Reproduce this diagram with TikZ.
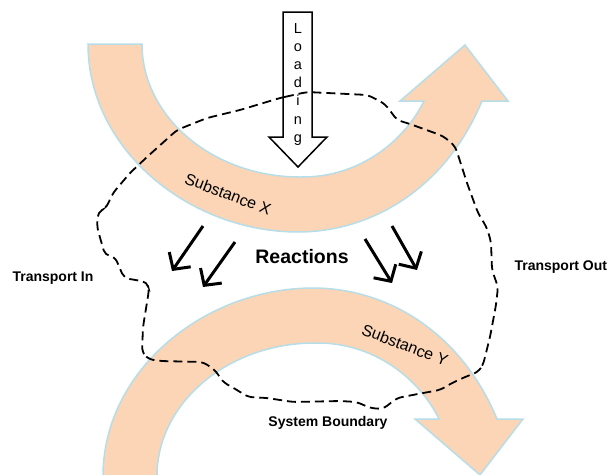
\documentclass[tikz,border=0pt]{standalone}
\usepackage{fontspec}
\setmainfont{Liberation Sans}
\usetikzlibrary{arrows.meta}
\definecolor{bandfill}{RGB}{251,213,181}
\definecolor{bandline}{RGB}{183,221,232}
% one curved band, given in picture pixels
\newcommand{\arcband}{(88,44) -- (142,44) .. controls (142,117) and (213,177) .. (300,177)
  .. controls (360,178) and (405,140) .. (424,101) -- (400,101) -- (465,45) -- (508,101) -- (482,101)
  .. controls (445,190) and (370,232) .. (298,232) .. controls (190,232) and (88,150) .. (88,44) -- cycle}

\begin{document}
\begin{tikzpicture}[x=1pt,y=-1pt,
    band/.style={fill=bandfill,draw=bandline,line width=1.5pt},
    hollow/.style={fill=white,draw=black,line width=1.5pt},
    boundary/.style={draw=black,line width=1.8pt,dash pattern=on 9pt off 5pt,rounded corners=5pt},
    note/.style={font=\bfseries\fontsize{14}{16}\selectfont},
    subst/.style={font=\fontsize{16}{18}\selectfont,rotate=-21},
    react/.style={line width=3pt,-{Straight Barb[length=12pt,width=26pt]}},
    letter/.style={font=\fontsize{14.5}{16}\selectfont,anchor=base,inner sep=0pt}]
  \useasboundingbox (0,0) rectangle (610,474);
  \clip (0,0) rectangle (610,474);

  % substances
  \path[band] \arcband;
  \begin{scope}[shift={(15,520)},yscale=-1]
    \path[band] \arcband;
  \end{scope}

  % loading
  \path[hollow] (283,12) -- (312,12) -- (312,137) -- (327,137) -- (298,167)
                -- (269,137) -- (283,137) -- cycle;
  \foreach \ch [count=\k] in {L,o,a,d,i,n,g}
    \node[letter] (load\k) at (298,{33+18.2*(\k-1)}) {\ch};

  % system boundary
  \draw[boundary] (280,98) -- (307,92) -- (368,95) -- (385,104) -- (397,120) -- (410,124)
    -- (443,136) -- (455,146) -- (459,158) -- (467,183) -- (478,213) -- (487,228)
    -- (491,242) -- (492,270) -- (498,287) -- (496,305) -- (490,337) -- (483,365)
    -- (478,372) -- (465,377) -- (452,383) -- (440,390) -- (423,393) -- (397,398)
    -- (383,409) -- (370,408) -- (357,402) -- (340,401) -- (293,402) -- (267,398)
    -- (248,397) -- (237,390) -- (223,382) -- (215,370) -- (203,362) -- (160,361)
    -- (148,359) -- (142,352) -- (143,327) -- (149,290) -- (147,282) -- (124,278)
    -- (115,257) -- (105,255) -- (97,227) -- (98,212) -- (106,208) -- (113,193)
    -- (130,173) -- (147,157) -- (177,130) -- (207,118) -- (240,110) -- cycle;

  % texts
  \node[subst] (subx) at (228,194) {Substance X};
  \node[subst] (suby) at (405,345) {Substance Y};
  \node[font=\bfseries\fontsize{19.5}{22}\selectfont] (reac) at (302,257) {Reactions};
  \node[note] (tin) at (53,278) {Transport In};
  \node[note,anchor=west] (tout) at (511,267) {Transport Out};
  \node[note] (sysb) at (328,423) {System Boundary};

  % reactions
  \coordinate (r1a) at (203,226); \coordinate (r1b) at (172,271);
  \coordinate (r2a) at (235,242); \coordinate (r2b) at (203,287);
  \coordinate (r3a) at (365,239); \coordinate (r3b) at (392,283);
  \coordinate (r4a) at (392,226); \coordinate (r4b) at (417,270);
  \draw[react] (r1a) -- (r1b);
  \draw[react] (r2a) -- (r2b);
  \draw[react] (r3a) -- (r3b);
  \draw[react] (r4a) -- (r4b);
\end{tikzpicture}
\end{document}
